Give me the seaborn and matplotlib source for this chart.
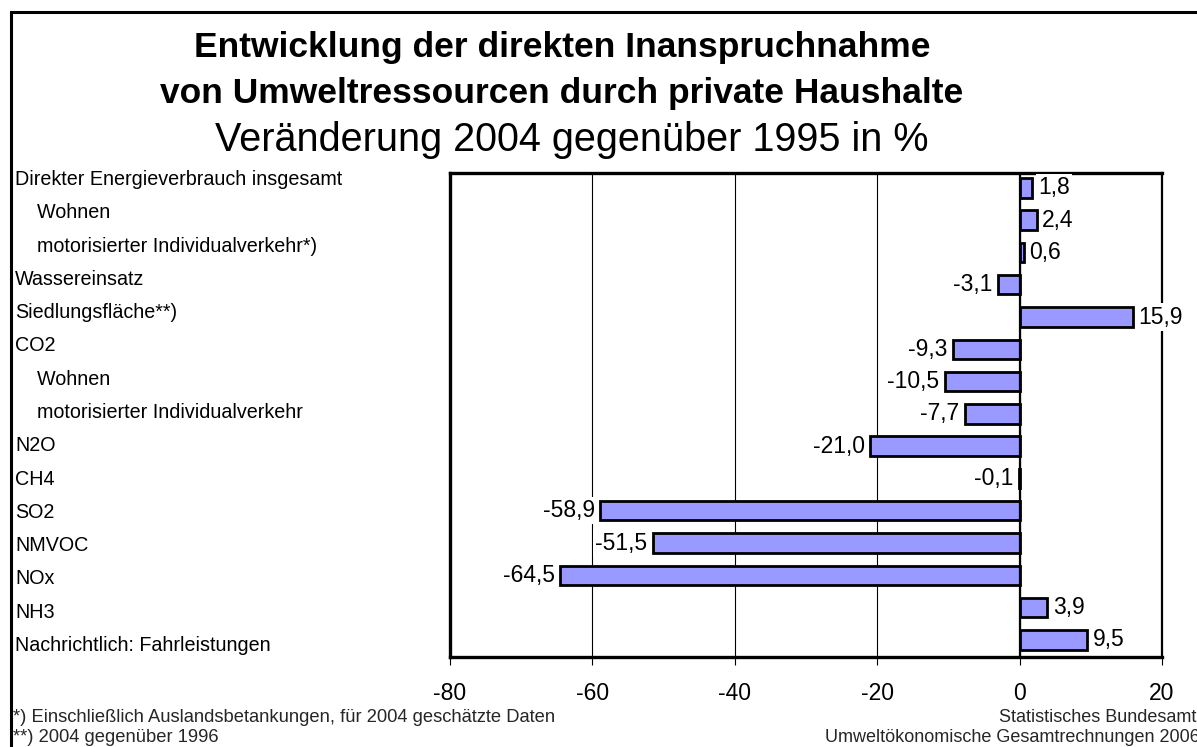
import matplotlib
matplotlib.use("Agg")
import matplotlib.pyplot as plt
import seaborn as sns
import pandas as pd
from matplotlib.patches import Rectangle

categories = [
    "Direkter Energieverbrauch insgesamt",
    "    Wohnen",
    "    motorisierter Individualverkehr*)",
    "Wassereinsatz",
    "Siedlungsfläche**)",
    "CO2",
    "    Wohnen",
    "    motorisierter Individualverkehr",
    "N2O",
    "CH4",
    "SO2",
    "NMVOC",
    "NOx",
    "NH3",
    "Nachrichtlich: Fahrleistungen",
]
values = [1.8, 2.4, 0.6, -3.1, 15.9, -9.3, -10.5, -7.7, -21.0, -0.1, -58.9, -51.5, -64.5, 3.9, 9.5]
x_ticks = [-80, -60, -40, -20, 0, 20]

title_lines = ["Entwicklung der direkten Inanspruchnahme",
               "von Umweltressourcen durch private Haushalte"]
subtitle = "Veränderung 2004 gegenüber 1995 in %"
foot_left = ["*) Einschließlich Auslandsbetankungen, für 2004 geschätzte Daten",
             "**) 2004 gegenüber 1996"]
foot_right = ["Statistisches Bundesamt",
              "Umweltökonomische Gesamtrechnungen 2006"]

sns.set_theme(style="white")
plt.rcParams["font.family"] = ["Liberation Sans", "DejaVu Sans"]

W, H = 1197, 747
fig = plt.figure(figsize=(W / 100, H / 100), dpi=100)
fig.patch.set_facecolor("white")


def px(x0, y0, x1, y1):
    return [x0 / W, 1 - y1 / H, (x1 - x0) / W, (y1 - y0) / H]


# outer frame
fig.patches.append(Rectangle((11 / W, -0.2), 1.5, 1.2 - 12 / H,
                             transform=fig.transFigure, fill=False,
                             edgecolor="black", linewidth=2.2, zorder=0))

ax = fig.add_axes(px(450, 173, 1162, 657))
df = pd.DataFrame({"pos": list(range(len(values))), "value": values})
sns.barplot(data=df, x="value", y="pos", orient="h", color="#9999FF",
            saturation=1, width=0.6, edgecolor="black", linewidth=2.0, ax=ax)

ax.set_xlim(-80, 20)
ax.set_ylim(14.53, -0.46)
ax.set_xticks(x_ticks)
ax.set_xticklabels([str(t) for t in x_ticks])
ax.set_yticks([])
ax.set_xlabel("")
ax.set_ylabel("")
ax.xaxis.grid(True, color="black", linewidth=0.8)
ax.set_axisbelow(True)
ax.axvline(0, color="black", linewidth=1.6, zorder=1.5)
ax.tick_params(axis="x", bottom=True, direction="out", length=6, width=0.8,
               color="black", pad=12, labelsize=16.5, labelcolor="black")
for side in ["left", "top", "bottom"]:
    ax.spines[side].set_linewidth(2.4)
    ax.spines[side].set_color("black")
ax.spines["right"].set_linewidth(1.6)
ax.spines["right"].set_color("black")

labels = [f"{v:.1f}".replace(".", ",") for v in values]
ax.bar_label(ax.containers[0], labels=labels, padding=4, fontsize=16.5,
             color="black",
             bbox=dict(facecolor="white", edgecolor="none", pad=1.5),
             zorder=5)

# category labels
ax_lab = fig.add_axes(px(15, 161, 449, 660))
ax_lab.set_ylim(14.5, -0.5)
ax_lab.set_yticks(list(range(len(categories))))
ax_lab.set_yticklabels(categories, ha="left", fontsize=14.2, color="black")
ax_lab.tick_params(axis="y", length=0, pad=0, left=True)
ax_lab.set_xticks([])
for s in ax_lab.spines.values():
    s.set_visible(False)
ax_lab.patch.set_visible(False)

# titles
fig.text(562 / W, 1 - 47 / H, title_lines[0], ha="center", va="center",
         fontsize=25.5, fontweight="bold", color="black")
fig.text(562 / W, 1 - 94 / H, title_lines[1], ha="center", va="center",
         fontsize=25.5, fontweight="bold", color="black")
fig.text(572 / W, 1 - 140 / H, subtitle, ha="center", va="center",
         fontsize=28.5, color="black")

# footnotes
fig.text(13 / W, 1 - 717 / H, foot_left[0], ha="left", va="center", fontsize=13.2)
fig.text(13 / W, 1 - 738 / H, foot_left[1], ha="left", va="center", fontsize=13.2)
fig.text(1196 / W, 1 - 717 / H, foot_right[0], ha="right", va="center", fontsize=13)
fig.text(1200 / W, 1 - 738 / H, foot_right[1], ha="right", va="center", fontsize=13)

fig.savefig("out.png", dpi=100, facecolor="white")
